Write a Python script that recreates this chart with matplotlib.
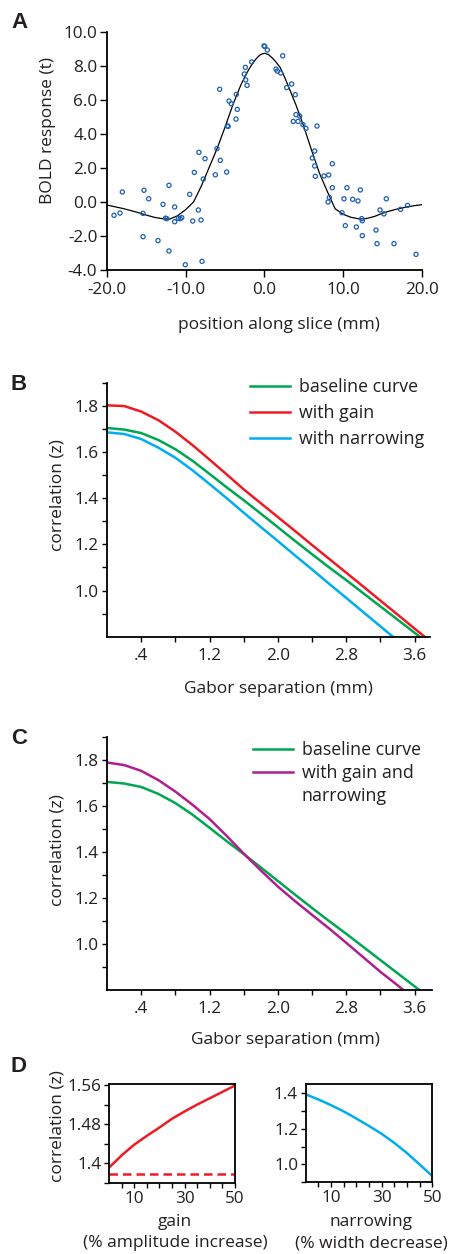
import numpy as np
import matplotlib
matplotlib.use("Agg")
import matplotlib.pyplot as plt
from matplotlib.ticker import FixedLocator, FixedFormatter
from matplotlib.lines import Line2D

# ---------------- data ----------------
# Panel A: BOLD response scatter and fitted curve
scatter_x = [-19.11, -18.35, -18.05, -15.3, -14.7, -15.42, -15.42, -13.52, -12.88, -12.12,
             -12.55, -12.4, -11.4, -11.4, -12.12, -10.94, -10.7, -10.5, -9.49, -10.05,
             -9.1, -8.39, -8.05, -7.92, -7.76, -8.9, -6.23, -4.79, -8.31, -7.54,
             -5.6, -6.02, -4.7, -4.6, -3.6, -3.44, -4.2, -4.49, -3.56, -5.68,
             -2.2, -2.37, -2.55, -2.42, -1.61, -0.04, 0.05, 0.38, 2.33, 1.48,
             1.65, 2.08, 2.84, 3.47, 3.93, 4.02, 4.49, 3.68, 4.28, 4.91,
             5.29, 6.69, 6.4, 6.1, 6.4, 8.64, 6.48, 7.58, 8.18, 8.64,
             10.5, 12.2, 8.1, 8.26, 10.12, 11.23, 11.9, 9.87, 10.29, 11.69,
             12.37, 12.45, 12.45, 14.7, 15.5, 15.2, 14.19, 14.32, 16.48, 17.32,
             18.2, 19.28]
scatter_y = [-0.78, -0.65, 0.59, 0.69, 0.19, -0.67, -2.04, -2.27, -0.14, 0.98,
             -0.95, -0.98, -0.29, -1.16, -2.88, -0.96, -0.98, -0.92, 0.45, -3.69,
             -1.12, -0.47, -1.06, -3.49, 1.35, 1.74, 1.6, 1.76, 2.92, 2.55,
             2.45, 3.14, 4.47, 4.45, 4.88, 5.45, 5.78, 5.94, 6.33, 6.63,
             6.86, 7.18, 7.53, 7.92, 8.24, 9.18, 9.15, 8.94, 8.6, 7.82,
             7.7, 7.59, 6.73, 6.94, 6.31, 5.14, 5.06, 4.74, 4.74, 4.55,
             4.33, 4.47, 3.0, 2.59, 2.12, 2.25, 1.51, 1.53, 1.59, 0.84,
             0.84, 0.71, 0.0, 0.27, 0.19, 0.16, 0.06, -0.63, -1.39, -1.47,
             -0.98, -1.1, -1.98, -0.47, 0.19, -0.7, -1.65, -2.45, -2.45, -0.43,
             -0.2, -3.08]

fit_x = [-20, -19, -18, -17, -16, -15, -14, -13, -12, -11, -10, -9, -8, -7, -6, -5, -4,
         -3, -2.5, -2, -1.5, -1, -0.5, 0, 0.5, 1, 1.5, 2, 2.5, 3,
         4, 5, 6, 7, 8, 9, 10, 11, 12, 13, 14, 15, 16, 17, 18, 19, 20]
fit_y = [-0.18, -0.28, -0.38, -0.5, -0.63, -0.77, -0.9, -0.98, -1.0, -0.8, -0.45, 0.0, 0.95,
         2.05, 3.15, 4.4, 5.72, 6.87, 7.35, 7.78, 8.15, 8.45, 8.67, 8.75, 8.68, 8.48, 8.22,
         7.92, 7.42, 6.87, 5.73, 4.46, 3.05, 1.7, 0.62, -0.4, -0.72, -0.9, -0.99, -0.97,
         -0.85, -0.66, -0.52, -0.4, -0.3, -0.22, -0.16]

# Panels B, C: correlation vs Gabor separation
gabor_sep = [0.0, 0.2, 0.4, 0.6, 0.8, 1.0, 1.2, 1.4, 1.6, 1.8, 2.0, 2.2, 2.4, 2.6, 2.8,
             3.0, 3.2, 3.4, 3.6, 3.8]
baseline = [1.704, 1.697, 1.682, 1.652, 1.612, 1.562, 1.505, 1.447, 1.391, 1.333, 1.274,
            1.215, 1.157, 1.100, 1.045, 0.988, 0.931, 0.874, 0.817, 0.760]
with_gain = [1.802, 1.799, 1.775, 1.738, 1.688, 1.630, 1.567, 1.503, 1.438, 1.378, 1.318,
             1.258, 1.197, 1.137, 1.077, 1.017, 0.956, 0.896, 0.835, 0.775]
with_narrowing = [1.685, 1.678, 1.656, 1.619, 1.575, 1.521, 1.461, 1.400, 1.337, 1.275,
                  1.214, 1.152, 1.091, 1.029, 0.968, 0.906, 0.845, 0.783, 0.722, 0.660]
with_gain_narrowing = [1.788, 1.777, 1.752, 1.712, 1.662, 1.605, 1.543, 1.470, 1.393, 1.320,
                       1.250, 1.187, 1.127, 1.068, 1.006, 0.943, 0.880, 0.822, 0.760, 0.700]

# Panel D
pct = [0, 5, 10, 15, 20, 25, 30, 35, 40, 45, 50]
gain_corr = [1.391, 1.416, 1.438, 1.456, 1.473, 1.491, 1.506, 1.520, 1.533, 1.546, 1.559]
gain_reference = 1.379
narrow_corr = [1.394, 1.365, 1.333, 1.298, 1.258, 1.216, 1.172, 1.121, 1.064, 1.000, 0.935]

# ---------------- style ----------------
W, H = 454, 1254
FONT = ["Open Sans", "DejaVu Sans"]
plt.rcParams["font.family"] = FONT
TXT = "#231f20"
GREEN, RED, CYAN, MAG, DOT = "#00a651", "#ed1c24", "#00aeef", "#b01f8e", "#1d5fb3"
TICK_FS = 12.3
LAB_FS = 12.5
LEG_FS = 12.8

fig = plt.figure(figsize=(W / 100, H / 100), dpi=100)


def add_ax(l, t, r, b):
    return fig.add_axes([l / W, 1 - b / H, (r - l) / W, (b - t) / H])


def fx(px):
    return px / W


def fy(py):
    return 1 - py / H


def style(ax, box=False, tlen=4.0):
    for s in ["top", "right"]:
        ax.spines[s].set_visible(box)
    for s in ax.spines.values():
        s.set_linewidth(1.3)
        s.set_color("black")
    ax.tick_params(which="both", direction="out", width=1.0, colors="black",
                   labelcolor=TXT, labelsize=TICK_FS, pad=2)
    ax.tick_params(which="major", length=tlen)
    ax.tick_params(which="minor", length=tlen)


def panel_letter(txt, px, py):
    fig.text(fx(px), fy(py), txt, fontsize=16, fontweight="bold", color=TXT,
             family=["Liberation Sans", "DejaVu Sans"], ha="center", va="center")


# ---------------- Panel A ----------------
axA = add_ax(107, 32, 421.7, 270)
style(axA, tlen=5)
axA.plot(fit_x, fit_y, color="black", lw=0.9)
axA.scatter(scatter_x, scatter_y, s=9, facecolors="none", edgecolors=DOT, linewidths=0.9,
            zorder=3, clip_on=False)
axA.set_xlim(-20, 20)
axA.set_ylim(-4, 10)
xt = [-20, -10, 0, 10, 20]
yt = [-4, -2, 0, 2, 4, 6, 8, 10]
axA.xaxis.set_major_locator(FixedLocator(xt))
axA.xaxis.set_major_formatter(FixedFormatter([f"{v:.1f}" for v in xt]))
axA.yaxis.set_major_locator(FixedLocator(yt))
axA.yaxis.set_major_formatter(FixedFormatter([f"{v:.1f}" for v in yt]))
axA.tick_params(axis="x", pad=4)
fig.text(fx(48), fy(130), "BOLD response (t)", rotation=90, fontsize=LAB_FS, color=TXT,
         ha="center", va="center")
fig.text(fx(279), fy(325), "position along slice (mm)", fontsize=LAB_FS, color=TXT,
         ha="center", va="center")
panel_letter("A", 19, 22)


def gabor_axes(ax):
    style(ax, tlen=3.8)
    ax.set_ylim(0.8, 1.9)
    maj = [1.0, 1.2, 1.4, 1.6, 1.8]
    ax.yaxis.set_major_locator(FixedLocator(maj))
    ax.yaxis.set_major_formatter(FixedFormatter([f"{v:.1f}" for v in maj]))
    ax.yaxis.set_minor_locator(FixedLocator([0.9, 1.1, 1.3, 1.5, 1.7, 1.9]))
    xm = [0.4, 1.2, 2.0, 2.8, 3.6]
    ax.xaxis.set_major_locator(FixedLocator(xm))
    ax.xaxis.set_major_formatter(FixedFormatter([".4", "1.2", "2.0", "2.8", "3.6"]))
    ax.xaxis.set_minor_locator(FixedLocator([0.8, 1.6, 2.4, 3.2]))
    ax.tick_params(axis="x", pad=4)


# ---------------- Panel B ----------------
axB = add_ax(107, 382.7, 430, 636.7)
gabor_axes(axB)
axB.set_xlim(0, 3.78)
axB.plot(gabor_sep, baseline, color=GREEN, lw=1.8, label="baseline curve")
axB.plot(gabor_sep, with_gain, color=RED, lw=1.8, label="with gain")
axB.plot(gabor_sep, with_narrowing, color=CYAN, lw=1.8, label="with narrowing")
legB = axB.legend(loc="upper left", bbox_to_anchor=(fx(250), fy(378)),
                  bbox_transform=fig.transFigure, frameon=False, fontsize=LEG_FS,
                  handlelength=2.25, handletextpad=0.5, labelspacing=0.45,
                  borderpad=0, borderaxespad=0)
for t in legB.get_texts():
    t.set_color(TXT)
fig.text(fx(57), fy(495), "correlation (z)", rotation=90, fontsize=LAB_FS, color=TXT,
         ha="center", va="center")
fig.text(fx(278), fy(689), "Gabor separation (mm)", fontsize=LAB_FS, color=TXT,
         ha="center", va="center")
panel_letter("B", 19, 384)

# ---------------- Panel C ----------------
axC = add_ax(107, 736.7, 431.7, 990.3)
gabor_axes(axC)
axC.set_xlim(0, 3.8)
axC.plot(gabor_sep, baseline, color=GREEN, lw=1.8)
axC.plot(gabor_sep, with_gain_narrowing, color=MAG, lw=1.8)
hC = [Line2D([], [], color=GREEN, lw=1.8), Line2D([], [], color=MAG, lw=1.8),
      Line2D([], [], color="none", lw=1.8)]
legC = axC.legend(hC, ["baseline curve", "with gain and", "narrowing"], loc="upper left",
                  bbox_to_anchor=(fx(253), fy(741)), bbox_transform=fig.transFigure,
                  frameon=False, fontsize=LEG_FS, handlelength=2.25, handletextpad=0.5,
                  labelspacing=0.27, borderpad=0, borderaxespad=0)
for t in legC.get_texts():
    t.set_color(TXT)
fig.text(fx(57), fy(850), "correlation (z)", rotation=90, fontsize=LAB_FS, color=TXT,
         ha="center", va="center")
fig.text(fx(285), fy(1040), "Gabor separation (mm)", fontsize=LAB_FS, color=TXT,
         ha="center", va="center")
panel_letter("C", 19, 739)

# ---------------- Panel D ----------------
axD1 = add_ax(109, 1084.3, 235, 1183.3)
style(axD1, box=True, tlen=3.5)
axD1.plot(pct, gain_corr, color=RED, lw=1.8)
axD1.plot([pct[0], pct[-1]], [gain_reference, gain_reference], color=RED, lw=1.8,
          dashes=(3.4, 2.0))
axD1.set_xlim(0, 50)
axD1.set_ylim(1.359, 1.5615)
axD1.yaxis.set_major_locator(FixedLocator([1.4, 1.48, 1.56]))
axD1.yaxis.set_major_formatter(FixedFormatter(["1.4", "1.48", "1.56"]))
axD1.yaxis.set_minor_locator(FixedLocator([1.36, 1.44, 1.52]))

axD2 = add_ax(305.7, 1084.3, 432.3, 1182.3)
style(axD2, box=True, tlen=3.5)
axD2.plot(pct, narrow_corr, color=CYAN, lw=1.8)
axD2.set_xlim(0, 50)
axD2.set_ylim(0.9, 1.45)
axD2.yaxis.set_major_locator(FixedLocator([1.0, 1.2, 1.4]))
axD2.yaxis.set_major_formatter(FixedFormatter(["1.0", "1.2", "1.4"]))
axD2.yaxis.set_minor_locator(FixedLocator([0.9, 1.1, 1.3]))

for ax in (axD1, axD2):
    ax.xaxis.set_major_locator(FixedLocator([10, 30, 50]))
    ax.xaxis.set_major_formatter(FixedFormatter(["10", "30", "50"]))
    ax.xaxis.set_minor_locator(FixedLocator([5, 15, 20, 25, 35, 40, 45]))
    ax.tick_params(axis="x", pad=2)

fig.text(fx(57), fy(1126), "correlation (z)", rotation=90, fontsize=LAB_FS, color=TXT,
         ha="center", va="center")
fig.text(fx(175), fy(1222), "gain", fontsize=LAB_FS, color=TXT, ha="center", va="center")
fig.text(fx(175), fy(1243), "(% amplitude increase)", fontsize=LAB_FS, color=TXT,
         ha="center", va="center")
fig.text(fx(371), fy(1222), "narrowing", fontsize=LAB_FS, color=TXT, ha="center",
         va="center")
fig.text(fx(371), fy(1243), "(% width decrease)", fontsize=LAB_FS, color=TXT,
         ha="center", va="center")
panel_letter("D", 19, 1067)

fig.savefig("out.png", dpi=100)
